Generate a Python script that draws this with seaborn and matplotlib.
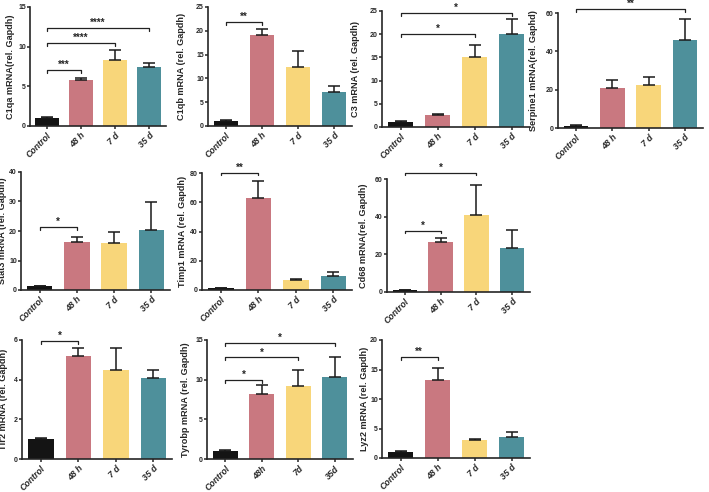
import numpy as np
import pandas as pd
import seaborn as sns
import matplotlib.pyplot as plt

groups = ["Control", "48 h", "7 d", "35 d"]
groups_tyrobp = ["Control", "48h", "7d", "35d"]
colors = ["#141414", "#C97880", "#F8D67A", "#4E909B"]

# mean and upper error (SEM)
c1qa_mean = [1.05, 5.85, 8.3, 7.4]
c1qa_err = [0.1, 0.15, 1.3, 0.5]
c1qb_mean = [1.1, 19.2, 12.3, 7.2]
c1qb_err = [0.1, 1.1, 3.5, 1.2]
c3_mean = [1.1, 2.5, 15.0, 20.0]
c3_err = [0.2, 0.3, 2.6, 3.2]
serpine1_mean = [1.2, 20.7, 22.5, 46.0]
serpine1_err = [0.2, 4.3, 4.3, 10.7]
stat3_mean = [1.2, 16.2, 16.0, 20.2]
stat3_err = [0.1, 1.7, 3.6, 9.7]
timp1_mean = [1.2, 62.8, 6.7, 9.6]
timp1_err = [0.2, 12.0, 0.8, 2.9]
cd68_mean = [1.2, 26.8, 40.8, 23.1]
cd68_err = [0.1, 2.0, 16.2, 10.0]
tlr2_mean = [1.03, 5.17, 4.48, 4.07]
tlr2_err = [0.04, 0.42, 1.1, 0.43]
tyrobp_mean = [1.05, 8.2, 9.15, 10.3]
tyrobp_err = [0.1, 1.1, 2.1, 2.6]
lyz2_mean = [1.1, 13.3, 3.1, 3.5]
lyz2_err = [0.05, 2.0, 0.15, 0.95]

# (label, means, errors, tick labels, ymax, ytick step, brackets (i, j, y, text))
panels = [
    ("C1qa mRNA(rel. Gapdh)", c1qa_mean, c1qa_err, groups, 15, 5,
     [(0, 1, 7.1, "***"), (0, 2, 10.5, "****"), (0, 3, 12.4, "****")]),
    ("C1qb mRNA (rel. Gapdh)", c1qb_mean, c1qb_err, groups, 25, 5,
     [(0, 1, 21.8, "**")]),
    ("C3 mRNA (rel. Gapdh)", c3_mean, c3_err, groups, 25, 5,
     [(0, 2, 20.1, "*"), (0, 3, 24.6, "*")]),
    ("Serpine1 mRNA(rel. Gaphd)", serpine1_mean, serpine1_err, groups, 60, 20,
     [(0, 3, 62.0, "**")]),
    ("Stat3 mRNA (rel. Gapdh)", stat3_mean, stat3_err, groups, 40, 10,
     [(0, 1, 21.4, "*")]),
    ("Timp1 mRNA (rel. Gapdh)", timp1_mean, timp1_err, groups, 80, 20,
     [(0, 1, 80.3, "**")]),
    ("Cd68 mRNA(rel. Gapdh)", cd68_mean, cd68_err, groups, 60, 20,
     [(0, 1, 32.6, "*"), (0, 2, 63.4, "*")]),
    ("Tlr2 mRNA (rel. Gapdh)", tlr2_mean, tlr2_err, groups, 6, 2,
     [(0, 1, 5.97, "*")]),
    ("Tyrobp mRNA (rel. Gapdh)", tyrobp_mean, tyrobp_err, groups_tyrobp, 15, 5,
     [(0, 1, 9.96, "*"), (0, 2, 12.8, "*"), (0, 3, 14.6, "*")]),
    ("Lyz2 mRNA (rel. Gapdh)", lyz2_mean, lyz2_err, groups, 20, 5,
     [(0, 1, 17.1, "**")]),
]

# axes boxes in pixels: left, top, right, bottom, y-label offset from axis
boxes = [
    (30, 7, 166, 126, 15), (208, 7, 352, 126, 22), (382, 11, 530, 127, 22),
    (558, 13, 703, 128, 20),
    (21, 172, 170, 290, 13.5), (202, 173, 352, 290, 15), (387, 179, 530, 292, 19),
    (22, 340, 172, 459, 13.5), (207, 340, 353, 459, 17), (382, 340, 530, 458, 13),
]

sns.set_style("ticks")
plt.rcParams["font.family"] = ["Liberation Sans", "DejaVu Sans"]
plt.rcParams["font.weight"] = "bold"

W, H = 709, 492
fig = plt.figure(figsize=(W / 100, H / 100), dpi=100)

for (label, means, errs, ticks, ymax, step, brackets), (l, t, r, b, off) in zip(panels, boxes):
    ax = fig.add_axes([l / W, 1 - b / H, (r - l) / W, (b - t) / H])
    df = pd.DataFrame({"group": ticks, "value": means})
    sns.barplot(data=df, x="group", y="value", hue="group", palette=colors,
                order=ticks, hue_order=ticks, width=0.68, legend=False, ax=ax,
                edgecolor="none", saturation=1)
    ax.errorbar(range(4), means, yerr=[np.zeros(4), errs], fmt="none",
                ecolor="#1a1a1a", elinewidth=1.1, capsize=4.5, capthick=1.1)
    ax.set_xlim(-0.5, 3.5)
    ax.set_ylim(0, ymax)
    ax.set_yticks(np.arange(0, ymax + step / 2, step))
    ax.set_xlabel("")
    ax.set_ylabel(label, fontsize=6.6, fontweight="bold")
    ax.yaxis.set_label_coords(-off / (r - l), 0.5)
    ax.tick_params(axis="y", labelsize=5.0, length=2.2, width=1.1, pad=0.8)
    ax.tick_params(axis="x", labelsize=6.3, length=2.5, width=1.1, pad=1)
    for lab in ax.get_yticklabels():
        lab.set_fontweight("bold")
    ax.set_xticks(range(4))
    ax.set_xticklabels(ticks, rotation=45, ha="right", rotation_mode="anchor",
                       fontstyle="italic", fontweight="bold")
    for s in ["top", "right"]:
        ax.spines[s].set_visible(False)
    for s in ["left", "bottom"]:
        ax.spines[s].set_linewidth(1.2)
    h = ymax * 0.025
    for i, j, y, txt in brackets:
        ax.plot([i, i, j, j], [y - h, y, y, y - h], color="#222222", lw=0.9,
                clip_on=False)
        ax.text((i + j) / 2, y, txt, ha="center", va="bottom", fontsize=7,
                fontweight="bold", clip_on=False)

fig.savefig("out.png", dpi=100)
